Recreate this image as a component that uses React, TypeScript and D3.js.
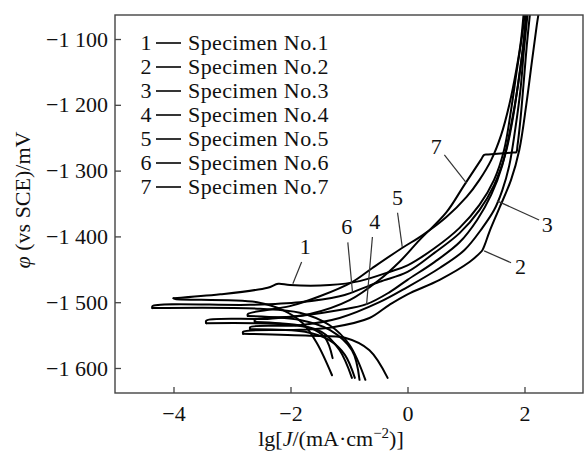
import React, { useEffect, useRef } from 'react';
import * as d3 from 'd3';

type Pt = [number, number];

// Polarization curves: [lg J, potential (mV)], cathodic end -> Ecorr tip -> anodic end
const specimen1: Pt[] = [
  [-1.29, -1611], [-1.55, -1562], [-1.79, -1532], [-2.13, -1512], [-2.57, -1500], [-3.97, -1495],
  [-4.0, -1494], [-3.2, -1488], [-2.39, -1478], [-2.21, -1472], [-2.01, -1474], [-1.33, -1474],
  [-0.82, -1468], [-0.31, -1454], [0, -1444], [0.46, -1418], [0.89, -1387], [1.23, -1352],
  [1.48, -1314], [1.65, -1269], [1.77, -1208], [1.87, -1147], [1.96, -1094], [2.01, -1056],
];
const specimen2: Pt[] = [
  [-0.34, -1615], [-0.65, -1573], [-1.07, -1554], [-1.67, -1551], [-2.81, -1548],
  [-2.81, -1545], [-1.84, -1542], [-1.28, -1538], [-0.65, -1524], [-0.31, -1504], [0, -1488],
  [0.55, -1466], [1.06, -1439], [1.24, -1425], [1.28, -1421], [1.32, -1413], [1.4, -1393],
  [1.57, -1357], [1.77, -1314], [1.91, -1269], [2.03, -1200], [2.13, -1132], [2.21, -1079], [2.25, -1056],
];
const specimen3: Pt[] = [
  [-0.9, -1615], [-1.07, -1580], [-1.33, -1558], [-1.75, -1545], [-2.69, -1541],
  [-2.69, -1538], [-1.84, -1535], [-1.16, -1524], [-0.48, -1500], [0, -1477], [0.55, -1448],
  [0.97, -1421], [1.28, -1387], [1.48, -1360], [1.62, -1330], [1.74, -1292], [1.84, -1238],
  [1.93, -1178], [1.99, -1117], [2.06, -1056],
];
const specimen4: Pt[] = [
  [-1.28, -1585], [-1.41, -1554], [-1.67, -1539], [-2.18, -1532], [-2.61, -1530],
  [-2.61, -1527], [-1.84, -1521], [-1.16, -1512], [-0.7, -1503], [-0.31, -1485], [0, -1466],
  [0.46, -1439], [0.89, -1409], [1.19, -1375], [1.43, -1337], [1.62, -1292], [1.77, -1231],
  [1.89, -1170], [1.98, -1109], [2.03, -1056],
];
const specimen5: Pt[] = [
  [-0.82, -1618], [-0.95, -1573], [-1.33, -1542], [-1.84, -1527], [-2.73, -1521],
  [-2.73, -1518], [-2.01, -1506], [-1.5, -1491], [-0.94, -1469], [-0.6, -1448], [-0.1, -1418],
  [0.26, -1398], [0.66, -1371], [1.01, -1340], [1.23, -1314], [1.43, -1284], [1.6, -1246],
  [1.74, -1200], [1.86, -1147], [1.94, -1102], [1.99, -1056],
];
const specimen6: Pt[] = [
  [-0.72, -1618], [-0.99, -1565], [-1.33, -1535], [-1.84, -1516], [-2.52, -1510], [-4.36, -1509],
  [-4.36, -1506], [-2.69, -1504], [-1.84, -1500], [-1.16, -1491], [-0.94, -1485], [-0.48, -1469],
  [0, -1454], [0.46, -1425], [0.89, -1395], [1.23, -1360], [1.48, -1322], [1.67, -1276],
  [1.81, -1216], [1.91, -1155], [1.99, -1102], [2.04, -1056],
];
const specimen7: Pt[] = [
  [-0.95, -1615], [-1.16, -1573], [-1.47, -1545], [-1.93, -1535], [-3.44, -1532],
  [-3.44, -1528], [-2.35, -1525], [-1.67, -1518], [-0.99, -1497], [-0.48, -1466], [-0.14, -1439],
  [0.2, -1406], [0.66, -1364], [0.97, -1322], [1.26, -1283], [1.31, -1276], [1.38, -1275.5],
  [1.8, -1272.5], [1.86, -1272], [1.88, -1262], [1.93, -1223], [1.99, -1162], [2.04, -1109], [2.1, -1056],
];

const specimens = [specimen1, specimen2, specimen3, specimen4, specimen5, specimen6, specimen7];
const legendNames = [
  'Specimen No.1', 'Specimen No.2', 'Specimen No.3', 'Specimen No.4',
  'Specimen No.5', 'Specimen No.6', 'Specimen No.7',
];

// curve number labels with leader lines (data coords)
const curveTags = ['1', '2', '3', '4', '5', '6', '7'];
const tagPos: Pt[] = [
  [-1.75, -1416], [1.93, -1447], [2.39, -1383], [-0.56, -1378], [-0.17, -1342], [-1.04, -1386], [0.49, -1264],
];
const leaderFrom: Pt[] = [
  [-1.81, -1439], [1.77, -1440], [2.25, -1375], [-0.6, -1401], [-0.17, -1364], [-1.02, -1409], [0.63, -1276],
];
const leaderTo: Pt[] = [
  [-1.96, -1472], [1.31, -1422], [1.53, -1346], [-0.7, -1504], [-0.09, -1416], [-0.94, -1485], [1.01, -1319],
];

const xTicks = [-4, -2, 0, 2];
const yTicks = [-1600, -1500, -1400, -1300, -1200, -1100];

const W = 584;
const H = 454;
const margin = { top: 15, right: 1, bottom: 61, left: 115 };
const FONT = '"Liberation Serif", "Times New Roman", serif';
const FS = 22;

const fmtY = (v: number) => {
  const a = Math.abs(v);
  return '\u2212' + Math.floor(a / 1000) + ' ' + String(a % 1000).padStart(3, '0');
};
const fmtX = (v: number) => (v < 0 ? '\u2212' + Math.abs(v) : String(v));

export default function App() {
  const ref = useRef<SVGSVGElement>(null);

  useEffect(() => {
    const svg = d3.select(ref.current);
    svg.selectAll('*').remove();

    const x = d3.scaleLinear().domain([-5, 3]).range([margin.left, W - margin.right]);
    const y = d3.scaleLinear().domain([-1638, -1063.5]).range([H - margin.bottom, margin.top]);

    svg.append('defs').append('clipPath').attr('id', 'plot-clip')
      .append('rect')
      .attr('x', margin.left).attr('y', margin.top)
      .attr('width', W - margin.left - margin.right)
      .attr('height', H - margin.top - margin.bottom);

    // curves: split each at the Ecorr tip so the spike stays sharp
    const line = d3.line<Pt>()
      .x(d => x(d[0]))
      .y(d => y(d[1]))
      .curve(d3.curveCatmullRom.alpha(0.5));

    const branches: Pt[][] = [];
    specimens.forEach(pts => {
      const tip = d3.minIndex(pts, d => d[0]);
      branches.push(pts.slice(0, tip + 1));
      branches.push(pts.slice(tip));
    });

    svg.append('g').attr('clip-path', 'url(#plot-clip)')
      .selectAll('path')
      .data(branches)
      .enter()
      .append('path')
      .attr('d', d => line(d))
      .attr('fill', 'none')
      .attr('stroke', '#000')
      .attr('stroke-width', 2)
      .attr('stroke-linejoin', 'round')
      .attr('stroke-linecap', 'round');

    // frame
    svg.append('rect')
      .attr('x', margin.left).attr('y', margin.top)
      .attr('width', W - margin.left - margin.right)
      .attr('height', H - margin.top - margin.bottom)
      .attr('fill', 'none')
      .attr('stroke', '#444')
      .attr('stroke-width', 1.4);

    // axes with inward ticks
    const xAxis = d3.axisBottom(x).tickValues(xTicks).tickSizeInner(-6).tickSizeOuter(0).tickPadding(12).tickFormat(d => fmtX(+d));
    const gx = svg.append('g').attr('transform', `translate(0,${H - margin.bottom})`).call(xAxis);
    gx.select('.domain').remove();
    gx.selectAll('line').attr('stroke', '#444').attr('stroke-width', 1.3);
    gx.selectAll('text').attr('font-family', FONT).attr('font-size', FS).attr('fill', '#111');

    const yAxis = d3.axisLeft(y).tickValues(yTicks).tickSizeInner(-6).tickSizeOuter(0).tickPadding(7).tickFormat(d => fmtY(+d));
    const gy = svg.append('g').attr('transform', `translate(${margin.left},0)`).call(yAxis);
    gy.select('.domain').remove();
    gy.selectAll('line').attr('stroke', '#444').attr('stroke-width', 1.3);
    gy.selectAll('text').attr('font-family', FONT).attr('font-size', FS).attr('fill', '#111');

    // legend
    const lg = svg.append('g').attr('font-family', FONT).attr('font-size', FS).attr('fill', '#111');
    legendNames.forEach((name, i) => {
      const cy = 43 + i * 24;
      lg.append('text').attr('x', 146).attr('y', cy + 7).attr('text-anchor', 'middle').text(String(i + 1));
      lg.append('line').attr('x1', 156).attr('x2', 181).attr('y1', cy).attr('y2', cy)
        .attr('stroke', '#111').attr('stroke-width', 1.7);
      lg.append('text').attr('x', 188).attr('y', cy + 7).attr('letter-spacing', 0.4).text(name);
    });

    // curve tags
    const tags = svg.append('g');
    curveTags.forEach((t, i) => {
      tags.append('line')
        .attr('x1', x(leaderFrom[i][0])).attr('y1', y(leaderFrom[i][1]))
        .attr('x2', x(leaderTo[i][0])).attr('y2', y(leaderTo[i][1]))
        .attr('stroke', '#333').attr('stroke-width', 1.2);
      tags.append('text')
        .attr('x', x(tagPos[i][0])).attr('y', y(tagPos[i][1]) + 7)
        .attr('text-anchor', 'middle')
        .attr('font-family', FONT).attr('font-size', FS).attr('fill', '#111')
        .text(t);
    });

    // axis titles
    const xt = svg.append('text')
      .attr('x', 331).attr('y', 446)
      .attr('text-anchor', 'middle')
      .attr('font-family', FONT).attr('font-size', FS).attr('fill', '#111');
    xt.append('tspan').text('lg[');
    xt.append('tspan').attr('font-style', 'italic').text('J');
    xt.append('tspan').text('/(mA\u00b7cm');
    xt.append('tspan').attr('font-size', 15).attr('dy', -8).text('\u22122');
    xt.append('tspan').attr('dy', 8).text(')]');

    const yt = svg.append('text')
      .attr('transform', 'translate(30,200) rotate(-90)')
      .attr('text-anchor', 'middle')
      .attr('font-family', FONT).attr('font-size', FS).attr('fill', '#111');
    yt.append('tspan').attr('font-style', 'italic').text('\u03c6');
    yt.append('tspan').text(' (vs SCE)/mV');
  }, []);

  return (
    <svg
      ref={ref}
      width={W}
      height={H}
      style={{ position: 'absolute', left: 0, top: 0, background: '#fff' }}
    />
  );
}
